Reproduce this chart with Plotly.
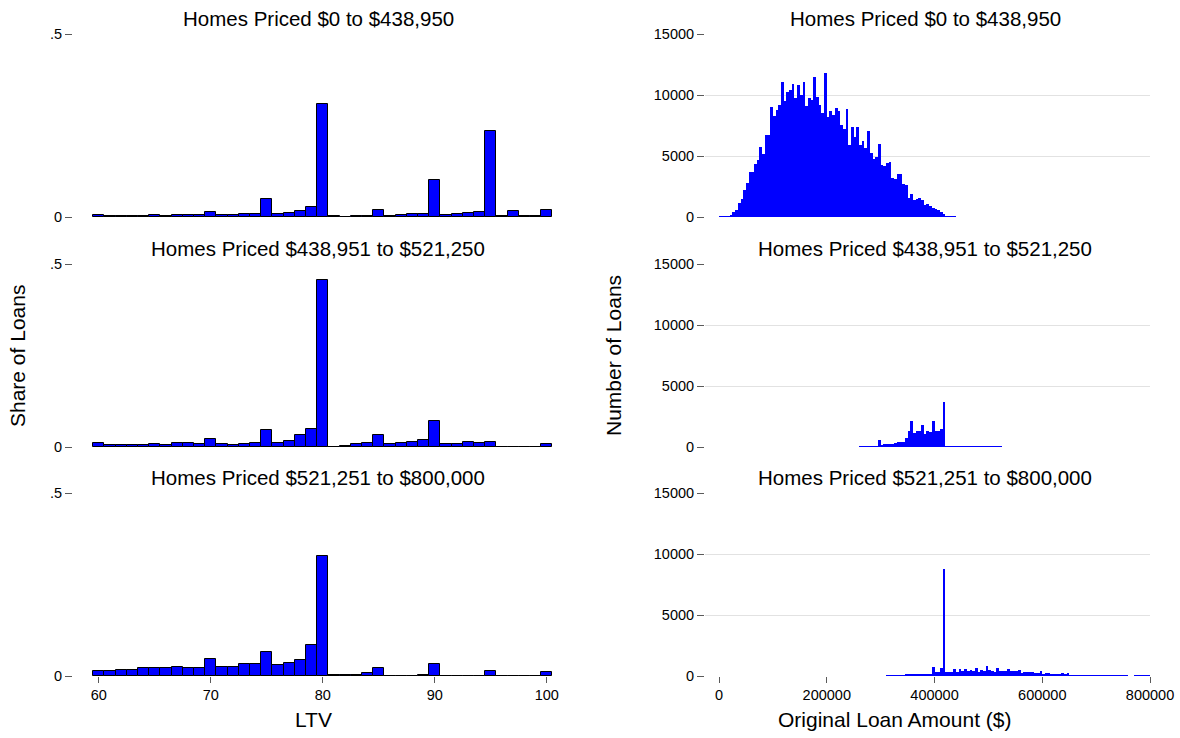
import plotly.graph_objects as go

# ---------------------------------------------------------------------------
# Data
# ---------------------------------------------------------------------------
ltv = [60, 61, 62, 63, 64, 65, 66, 67, 68, 69, 70, 71, 72, 73, 74, 75, 76, 77,
       78, 79, 80, 81, 82, 83, 84, 85, 86, 87, 88, 89, 90, 91, 92, 93, 94, 95,
       96, 97, 98, 99, 100]

# share of loans at each LTV, by home-price band
share_low = [0.0055, 0.003, 0.003, 0.004, 0.004, 0.006, 0.004, 0.006, 0.006, 0.006,
             0.013, 0.006, 0.005, 0.007, 0.009, 0.048, 0.008, 0.011, 0.016, 0.027,
             0.309, 0.002, 0.001, 0.003, 0.004, 0.020, 0.004, 0.006, 0.008, 0.009,
             0.101, 0.006, 0.009, 0.010, 0.014, 0.235, 0.003, 0.017, 0.002, 0.004,
             0.018]
share_mid = [0.010, 0.006, 0.006, 0.005, 0.006, 0.007, 0.005, 0.010, 0.010, 0.008,
             0.022, 0.008, 0.006, 0.009, 0.012, 0.047, 0.010, 0.017, 0.033, 0.050,
             0.457, 0.001, 0.003, 0.008, 0.010, 0.032, 0.007, 0.010, 0.013, 0.020,
             0.072, 0.007, 0.007, 0.014, 0.012, 0.015, 0.001, 0.001, 0.001, 0.001,
             0.007]
share_high = [0.015, 0.014, 0.017, 0.016, 0.022, 0.022, 0.021, 0.025, 0.021, 0.021,
              0.047, 0.024, 0.025, 0.033, 0.034, 0.065, 0.029, 0.036, 0.043, 0.084,
              0.329, 0.003, 0.003, 0.004, 0.007, 0.022, 0.0005, 0.0005, 0.001, 0.003,
              0.032, 0.0005, 0.0005, 0.0005, 0.0005, 0.014, 0.0005, 0.0005, 0.0005, 0.0005,
              0.012]

# loan-amount histograms: $5,000 bins, counts starting at the given amount
bin_width = 5000

count_low_start = 0
count_low = [80, 10, 50, 80, 190, 400, 600, 1140, 1440, 2250,
             2800, 3670, 3670, 4380, 4670, 5760, 5160, 6760, 6760, 9000,
             8300, 8800, 9180, 11060, 9540, 10270, 10400, 10870, 9780, 10810,
             10000, 11060, 9100, 9730, 9590, 11500, 9810, 9180, 8500, 11790,
             8230, 8700, 8370, 8970, 8720, 7550, 7230, 8850, 5920, 7390,
             6520, 7390, 5920, 6250, 5650, 7070, 5270, 4730, 4890, 6000,
             4240, 4160, 4460, 4540, 3210, 3150, 3560, 3560, 2740, 2660,
             1580, 1850, 1360, 1440, 1580, 1360, 950, 1030, 920, 760,
             650, 570, 410, 270, 80, 80, 80, 80]

count_mid_start = 260000
count_mid = [50, 50, 50, 50, 50, 50, 50, 550, 160, 220,
             220, 220, 220, 300, 440, 440, 380, 710, 1280, 2100,
             1150, 1280, 1280, 1780, 1090, 1280, 1200, 2100, 1280, 1280,
             1450, 3660, 40, 40, 40, 40, 40, 40, 40, 40,
             40, 40, 40, 40, 40, 40, 40, 40, 40, 40,
             40, 40, 40]

count_high_start = 310000
count_high = [55, 55, 55, 55, 55, 55, 55, 190, 110, 110,
              110, 110, 165, 165, 165, 165, 165, 740, 300, 330,
              680, 8740, 355, 355, 355, 600, 355, 600, 440, 600,
              410, 465, 410, 655, 330, 465, 410, 790, 490, 410,
              355, 655, 380, 380, 380, 545, 380, 380, 380, 490,
              245, 300, 330, 355, 300, 270, 220, 440, 165, 220,
              270, 190, 165, 190, 165, 270, 135, 220, 80, 70,
              70, 70, 70, 70, 70, 60, 60, 60, 60, 60,
              60, 60, 60, 60, 55, 55, 55, 55, 55, 55,
              0, 0, 55, 55, 55, 55, 55, 55]

panel_titles = ["Homes Priced $0 to $438,950",
                "Homes Priced $438,951 to $521,250",
                "Homes Priced $521,251 to $800,000"]

ltv_ticks = [60, 70, 80, 90, 100]
share_ticks = [0, 0.5]
share_ticktext = ["0", ".5"]
amount_ticks = [0, 200000, 400000, 600000, 800000]
amount_ticktext = ["0", "200000", "400000", "600000", "800000"]
count_ticks = [0, 5000, 10000, 15000]
count_ticktext = ["0", "5000", "10000", "15000"]

# ---------------------------------------------------------------------------
# Layout geometry (paper fractions)
# ---------------------------------------------------------------------------
W, H = 1180, 738
FONT = "Liberation Sans, Arial, Helvetica, sans-serif"
BLUE = "#0000ff"
GRID = "#e2e2e2"
TICK = "#5a5a5a"

left_dom = [73 / W, 553 / W]
right_dom = [705 / W, 1150 / W]
row_px = [(34, 217), (264, 447), (493, 676)]
row_dom = [[1 - b / H, 1 - t / H] for t, b in row_px]
title_y_px = [18, 248, 477]
title_x_px = [318, 925]

fig = go.Figure()

shares = [share_low, share_mid, share_high]
counts = [(count_low_start, count_low), (count_mid_start, count_mid),
          (count_high_start, count_high)]

layout = dict(
    width=W, height=H,
    margin=dict(l=0, r=0, t=0, b=0),
    paper_bgcolor="white", plot_bgcolor="white",
    showlegend=False, bargap=0,
    font=dict(family=FONT, size=15, color="black"),
    annotations=[],
)

for i in range(3):
    lx, ly = 2 * i + 1, 2 * i + 1
    rx, ry = 2 * i + 2, 2 * i + 2
    bottom = (i == 2)

    # LTV distribution
    fig.add_trace(go.Bar(
        x=ltv, y=shares[i], width=1,
        marker=dict(color=BLUE, line=dict(color="black", width=1)),
        xaxis=f"x{lx}", yaxis=f"y{ly}", hoverinfo="x+y",
    ))
    # loan amount histogram
    start, vals = counts[i]
    fig.add_trace(go.Bar(
        x0=start + bin_width / 2, dx=bin_width, y=vals, width=bin_width,
        marker=dict(color=BLUE, line=dict(width=0)),
        xaxis=f"x{rx}", yaxis=f"y{ry}", hoverinfo="x+y",
    ))

    xcommon = dict(showgrid=False, zeroline=False, showline=False,
                   ticks="outside" if bottom else "", ticklen=6,
                   tickcolor=TICK, tickwidth=1,
                   showticklabels=bottom, automargin=False,
                   tickfont=dict(size=14.5))
    ycommon = dict(showgrid=True, gridcolor=GRID, gridwidth=1,
                   zeroline=False, showline=False, ticks="outside",
                   ticklen=7, tickcolor=TICK, tickwidth=1,
                   automargin=False, tickfont=dict(size=14.5))

    layout[f"xaxis{lx}"] = dict(xcommon, domain=left_dom, anchor=f"y{ly}",
                                range=[57.7, 100.55], tickvals=ltv_ticks)
    layout[f"yaxis{ly}"] = dict(ycommon, domain=row_dom[i], anchor=f"x{lx}",
                                range=[0, 0.5], tickvals=share_ticks,
                                ticktext=share_ticktext)
    layout[f"xaxis{rx}"] = dict(xcommon, domain=right_dom, anchor=f"y{ry}",
                                range=[-26000, 800000], tickvals=amount_ticks,
                                ticktext=amount_ticktext)
    layout[f"yaxis{ry}"] = dict(ycommon, domain=row_dom[i], anchor=f"x{rx}",
                                range=[0, 15000], tickvals=count_ticks,
                                ticktext=count_ticktext)

    for tx in title_x_px:
        layout["annotations"].append(dict(
            text=panel_titles[i], xref="paper", yref="paper",
            x=tx / W, y=1 - title_y_px[i] / H,
            xanchor="center", yanchor="middle", showarrow=False,
            font=dict(size=20.5, family=FONT, color="black"),
        ))

# axis titles
axis_titles = [
    ("Share of Loans", 18, 356, -90),
    ("Number of Loans", 614, 356, -90),
    ("LTV", 313, 719, 0),
    ("Original Loan Amount ($)", 894, 719, 0),
]
for text, px, py, ang in axis_titles:
    layout["annotations"].append(dict(
        text=text, xref="paper", yref="paper", x=px / W, y=1 - py / H,
        xanchor="center", yanchor="middle", showarrow=False, textangle=ang,
        font=dict(size=21, family=FONT, color="black"),
    ))

fig.update_layout(**layout)
fig.write_html("out.html")
